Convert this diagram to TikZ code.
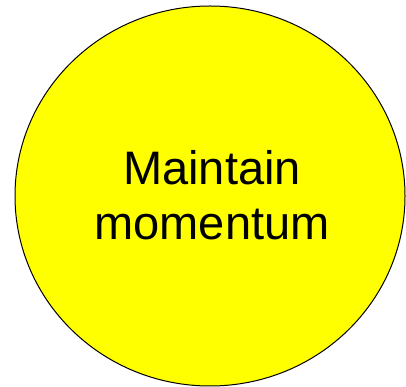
\documentclass[tikz,border=0pt]{standalone}
\usepackage{fontspec}
\setmainfont{Liberation Sans}
\definecolor{pureyellow}{RGB}{255,255,0}
\begin{document}
\begin{tikzpicture}[x=1pt,y=1pt,
  bubble/.style={draw=black,line width=1pt,fill=pureyellow},
  label/.style={font=\fontsize{47}{55}\selectfont,anchor=base,inner sep=0pt}]
\useasboundingbox (0,0) rectangle (406,387);
\path[bubble] (210,191) ellipse [x radius=195, y radius=190];
\node[label] (l1) at (212,202) {Maintain};
\node[label] (l2) at (212,147) {momentum};
\end{tikzpicture}
\end{document}
